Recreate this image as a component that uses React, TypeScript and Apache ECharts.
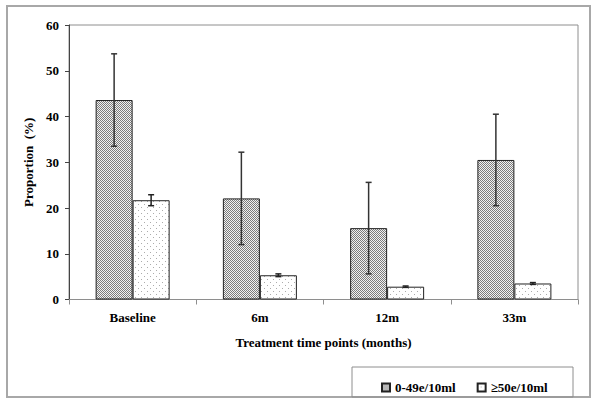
import React, { useEffect, useRef } from "react";
import * as echarts from "echarts";

const categories = ["Baseline", "6m", "12m", "33m"];
const lowGroup = [43.6, 22.1, 15.6, 30.5];
const lowErr = [10.1, 10.1, 10.0, 10.0];
const highGroup = [21.7, 5.3, 2.8, 3.5];
const highErr = [1.2, 0.3, 0.15, 0.2];
const seriesNames = ["0-49e/10ml", "≥50e/10ml"];
const yTicks = { min: 0, max: 60, interval: 10 };

const FONT = "Liberation Serif";

function makePattern(kind: "dark" | "light") {
  const c = document.createElement("canvas");
  if (kind === "dark") {
    c.width = 4;
    c.height = 4;
    const ctx = c.getContext("2d")!;
    ctx.fillStyle = "#f2f2f2";
    ctx.fillRect(0, 0, 4, 4);
    ctx.fillStyle = "#7c7c7c";
    for (let y = 0; y < 4; y++)
      for (let x = 0; x < 4; x++) if ((x + y) % 2 === 0) ctx.fillRect(x, y, 1, 1);
  } else {
    c.width = 6;
    c.height = 6;
    const ctx = c.getContext("2d")!;
    ctx.fillStyle = "#ffffff";
    ctx.fillRect(0, 0, 6, 6);
    ctx.fillStyle = "#acacac";
    ctx.fillRect(0, 0, 1, 1);
    ctx.fillRect(3, 3, 1, 1);
  }
  return { image: c, repeat: "repeat", imageWidth: c.width, imageHeight: c.height } as any;
}

export default function App() {
  const ref = useRef<HTMLDivElement>(null);
  useEffect(() => {
    if (!ref.current) return;
    const chart = echarts.init(ref.current, null, { renderer: "svg" });
    const darkFill = makePattern("dark");
    const lightFill = makePattern("light");
    const barW = 37;
    const errData = (vals: number[], errs: number[]) =>
      vals.map((v, i) => [i, v - errs[i], v + errs[i]]);
    const errSeries = (vals: number[], errs: number[], offset: number, color: string) => ({
      type: "custom",
      silent: true,
      z: 5,
      data: errData(vals, errs),
      encode: { x: 0, y: [1, 2] },
      renderItem: (params: any, api: any) => {
        const idx = api.value(0);
        const lo = api.coord([idx, api.value(1)]);
        const hi = api.coord([idx, api.value(2)]);
        const x = lo[0] + offset;
        const cap = 3;
        const st = { stroke: color, lineWidth: 1.5 };
        return {
          type: "group",
          children: [
            { type: "line", shape: { x1: x, y1: lo[1], x2: x, y2: hi[1] }, style: st },
            { type: "line", shape: { x1: x - cap, y1: lo[1], x2: x + cap, y2: lo[1] }, style: st },
            { type: "line", shape: { x1: x - cap, y1: hi[1], x2: x + cap, y2: hi[1] }, style: st },
          ],
        };
      },
    });
    const txt = { fontFamily: FONT, fontWeight: "bold", fontSize: 13, color: "#000" };
    chart.setOption({
      animation: false,
      backgroundColor: "#ffffff",
      grid: {
        left: 69,
        top: 25,
        right: 22,
        bottom: 106.5,
        show: true,
        borderColor: "#8e8e8e",
        borderWidth: 1,
      },
      xAxis: {
        type: "category",
        data: categories,
        name: "Treatment time points (months)",
        nameLocation: "middle",
        nameGap: 36,
        nameTextStyle: txt,
        axisLine: { lineStyle: { color: "#8e8e8e", width: 1 } },
        axisTick: { show: true, length: 5, lineStyle: { color: "#8e8e8e" } },
        axisLabel: { margin: 11, ...txt },
      },
      yAxis: {
        type: "value",
        min: yTicks.min,
        max: yTicks.max,
        interval: yTicks.interval,
        name: "Proportion  (%)",
        nameLocation: "middle",
        nameGap: 33,
        nameTextStyle: txt,
        axisLine: { show: true, lineStyle: { color: "#444", width: 1 } },
        axisTick: { show: true, length: 4, lineStyle: { color: "#444" } },
        splitLine: { show: false },
        axisLabel: { margin: 10, ...txt },
      },
      legend: {
        data: seriesNames.map((n) => ({ name: n, icon: "rect" })),
        left: 376,
        top: 376,
        itemWidth: 8,
        itemHeight: 8,
        itemGap: 21,
        selectedMode: false,
        textStyle: txt,
      },
      graphic: [
        {
          type: "rect",
          shape: { x: 7, y: 6, width: 583, height: 391 },
          style: { fill: "none", stroke: "#a8a8a8", lineWidth: 2 },
          silent: true,
        },
        {
          type: "rect",
          shape: { x: 352, y: 367, width: 221, height: 30 },
          style: { fill: "none", stroke: "#8e8e8e", lineWidth: 1 },
          silent: true,
        },
      ],
      series: [
        {
          name: seriesNames[0],
          type: "bar",
          data: lowGroup,
          barWidth: barW,
          barGap: "0%",
          itemStyle: { color: darkFill, borderColor: "#222", borderWidth: 1 },
        },
        {
          name: seriesNames[1],
          type: "bar",
          data: highGroup,
          barWidth: barW,
          barGap: "0%",
          itemStyle: { color: lightFill, borderColor: "#222", borderWidth: 1 },
        },
        errSeries(lowGroup, lowErr, -barW / 2, "#333"),
        errSeries(highGroup, highErr, barW / 2, "#222"),
      ],
    } as any);
    return () => chart.dispose();
  }, []);
  return <div ref={ref} style={{ width: 600, height: 406, position: "absolute", left: 0, top: 0 }} />;
}
